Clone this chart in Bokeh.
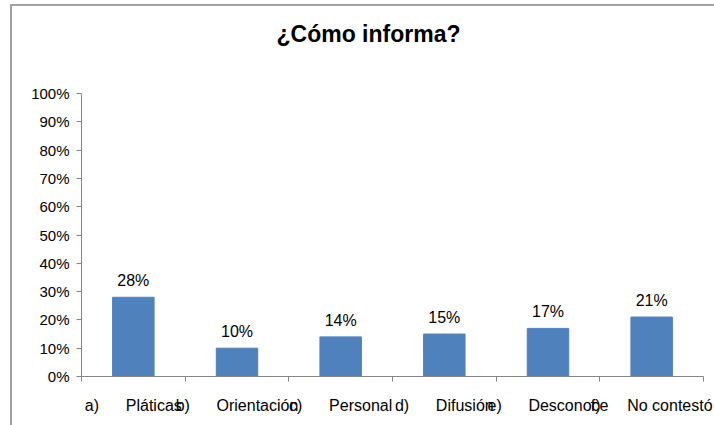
from bokeh.plotting import figure
from bokeh.models import FixedTicker, NumeralTickFormatter, ColumnDataSource, Range1d, Label
from bokeh.embed import file_html
from bokeh.resources import INLINE
from bokeh.core.properties import value

# ---- data ----
letters = ["a)", "b)", "c)", "d)", "e)", "f)"]
names = ["Pláticas", "Orientación", "Personal", "Difusión", "Desconoce", "No contestó"]
values = [0.28, 0.10, 0.14, 0.15, 0.17, 0.21]
y_ticks = [0.0, 0.1, 0.2, 0.3, 0.4, 0.5, 0.6, 0.7, 0.8, 0.9, 1.0]
title_text = "¿Cómo informa?"

FONT = "Liberation Sans"
GRAY = "#868686"
GAP = "\u00a0" * 6

# layout (pixels)
FRAME_H = 370          # frame spans from canvas top to the 0% line
PLOT_H = 283           # pixels between 0% and 100%
Y_TOP = FRAME_H / PLOT_H

n = len(names)
xs = [i + 0.5 for i in range(n)]
labels = [f"{v * 100:.0f}%" for v in values]
source = ColumnDataSource(dict(x=xs, top=values, label=labels))

p = figure(width=702, height=419, output_backend="svg", toolbar_location=None,
           x_range=Range1d(0, n), y_range=Range1d(0, Y_TOP),
           min_border_left=69, min_border_right=11, min_border_top=0, min_border_bottom=49)
p.title.visible = False
p.styles = {"outline": "2px solid #a0a0a0", "outline-offset": "0px",
            "margin-left": "12px", "margin-top": "6px"}

title = Label(x=287, y=FRAME_H - 27, x_units="screen", y_units="screen", text=title_text,
              text_align="center", text_baseline="middle",
              text_font=FONT, text_font_size="23px", text_font_style="bold",
              text_color="black")
p.add_layout(title)

p.vbar(x="x", top="top", width=0.4, bottom=0, source=source,
       fill_color="#4F81BD", line_color="#4F81BD")
p.text(x="x", y="top", text="label", source=source, y_offset=-8,
       text_align="center", text_baseline="bottom",
       text_font=value(FONT), text_font_size="16px", text_color="black")

p.xgrid.visible = False
p.ygrid.visible = False
p.outline_line_color = None
p.background_fill_color = "white"
p.border_fill_color = "white"

# x axis: labels at category centres, small ticks at category boundaries
xa = p.xaxis[0]
xa.ticker = FixedTicker(ticks=xs, minor_ticks=list(range(n + 1)))
xa.major_label_overrides = {x: f"{l}{GAP}{nm}" for x, l, nm in zip(xs, letters, names)}
xa.major_tick_out = 0
xa.major_tick_in = 0
xa.minor_tick_out = 5
xa.minor_tick_in = 0
xa.minor_tick_line_color = GRAY
xa.axis_line_color = GRAY
xa.major_label_standoff = 15
xa.major_label_text_font = FONT
xa.major_label_text_font_size = "16px"
xa.major_label_text_color = "black"

ya = p.yaxis[0]
ya.ticker = FixedTicker(ticks=y_ticks, minor_ticks=[])
ya.bounds = (0, 1)
ya.formatter = NumeralTickFormatter(format="0%")
ya.major_tick_out = 5
ya.major_tick_in = 0
ya.major_tick_line_color = GRAY
ya.axis_line_color = GRAY
ya.major_label_standoff = 7
ya.major_label_text_font = FONT
ya.major_label_text_font_size = "15px"
ya.major_label_text_color = "black"

open("out.html", "w").write(file_html(p, INLINE))
